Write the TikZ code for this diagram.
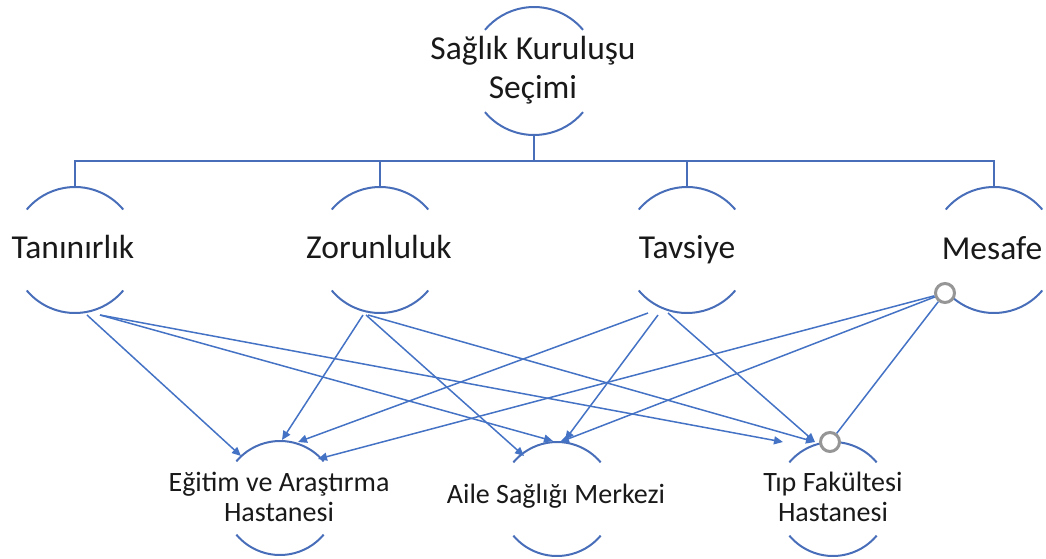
\documentclass[tikz,border=0pt]{standalone}
\usepackage{fontspec}
\setmainfont{Carlito}
\usetikzlibrary{arrows.meta,calc}
\definecolor{arcblue}{RGB}{72,110,185}
\definecolor{lineblue}{RGB}{68,114,196}
\definecolor{txt}{RGB}{25,25,25}
\definecolor{dotgray}{RGB}{150,150,150}
\tikzset{
  ring/.style={circle,draw=none,inner sep=0pt,outer sep=0pt,minimum size=#1},
  arcline/.style={draw=arcblue,line width=2pt},
  bus/.style={draw=arcblue,line width=2pt},
  conn/.style={draw=lineblue,line width=1.5pt,-{Triangle[length=9pt,width=8pt]}},
  plainconn/.style={draw=lineblue,line width=1.5pt},
  bigtxt/.style={text=txt,font=\fontsize{33.5}{39}\selectfont,inner sep=0pt,align=center},
  smalltxt/.style={text=txt,font=\fontsize{28}{30}\selectfont,inner sep=0pt,align=center},
  graydot/.style={circle,draw=dotgray,fill=white,line width=3pt,inner sep=0pt,minimum size=19pt}
}
\begin{document}
\begin{tikzpicture}[x=1pt,y=-1pt]
\useasboundingbox (0,0) rectangle (1046,559);
% circle nodes (invisible), arcs drawn separately
\node[ring=128pt] (top) at (534,71) {};
\node[ring=126pt] (tan) at (75,250) {};
\node[ring=126pt] (zor) at (380,250) {};
\node[ring=126pt] (tav) at (687,250) {};
\node[ring=126pt] (mes) at (994,250) {};
\node[ring=114pt] (egt) at (280,498) {};
\node[ring=114pt] (aile) at (557,499) {};
\node[ring=114pt] (tip) at (833,499) {};
% arcs
\foreach \n/\r in {top/64pt,tan/63pt,zor/63pt,tav/63pt,mes/63pt,egt/57pt,aile/57pt,tip/57pt}{
  \draw[arcline] (\n.40) arc[start angle=40,end angle=140,radius=\r];
  \draw[arcline] (\n.220) arc[start angle=220,end angle=320,radius=\r];
}
% texts
\node[bigtxt] (topT) at (533,70) {Sağlık Kuruluşu\\Seçimi};
\node[bigtxt,anchor=base] (tanT) at (73,258) {Tanınırlık};
\node[bigtxt,anchor=base] (zorT) at (379,258) {Zorunluluk};
\node[bigtxt,anchor=base] (tavT) at (687,258) {Tavsiye};
\node[bigtxt,anchor=base] (mesT) at (992,259) {Mesafe};
\node[smalltxt] (egtT) at (279,497) {Eğitim ve Araştırma\\Hastanesi};
\node[smalltxt,anchor=base] (aileT) at (556,503) {Aile Sağlığı Merkezi};
\node[smalltxt] (tipT) at (833,497) {Tıp Fakültesi\\Hastanesi};
% hierarchy bus
\draw[bus] (top.south) -- ++(0,26) coordinate (busmid);
\draw[bus] (busmid) -| (tan.north);
\draw[bus] (busmid) -| (zor.north);
\draw[bus] (busmid) -| (tav.north);
\draw[bus] (busmid) -| (mes.north);
% connectors
\draw[conn] ($(tan.center)+(12,65)$) -- ($(egt.center)+(-39,-42)$);
\draw[conn] ($(tan.center)+(25,65)$) -- ($(aile.center)+(-4,-58)$);
\draw[conn] ($(tan.center)+(25,65)$) -- ($(tip.center)+(-50,-57)$);
\draw[conn] ($(zor.center)+(-17,65)$) -- ($(egt.center)+(2,-58)$);
\draw[conn] ($(zor.center)+(-14,65)$) -- ($(aile.center)+(-33,-43)$);
\draw[conn] ($(zor.center)+(-12,65)$) -- ($(tip.center)+(-18,-57)$);
\draw[conn] ($(tav.center)+(-39,63)$) -- ($(egt.center)+(18,-56)$);
\draw[conn] ($(tav.center)+(-29,65)$) -- ($(aile.center)+(8,-59)$);
\draw[conn] ($(tav.center)+(-19,63)$) -- ($(tip.center)+(-18,-57)$);
% gray connection dots
\node[graydot] (mdot) at ($(mes.center)+(-49,43)$) {};
\node[graydot] (tdot) at ($(tip.center)+(-3,-57)$) {};
\draw[conn] (mdot) -- ($(egt.center)+(38,-39)$);
\draw[conn] (mdot) -- ($(aile.center)+(3,-57)$);
\draw[plainconn] (mdot) -- (tdot);
\end{tikzpicture}
\end{document}
